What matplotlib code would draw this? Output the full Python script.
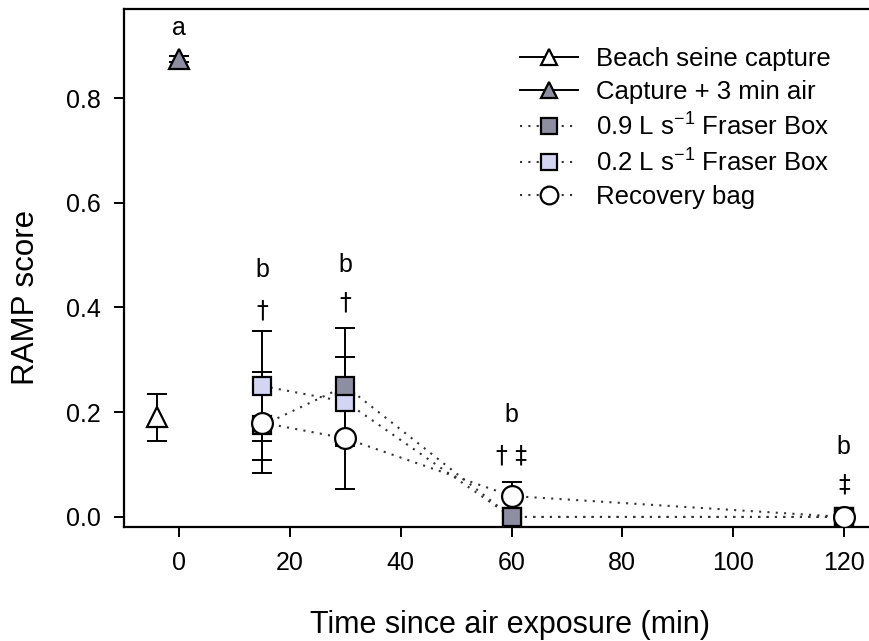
import matplotlib
matplotlib.use("Agg")
from matplotlib import pyplot as plt

plt.rcParams['font.family'] = ['Liberation Sans', 'DejaVu Sans']
plt.rcParams['mathtext.default'] = 'regular'

#------------------------------------------------------------
# Data
seine_t = [-4]
seine_y = [0.19]
seine_err = [0.045]

air_t = [0]
air_y = [0.875]
air_err = [0.006]

times = [15, 30, 60, 120]
box09_y = [0.175, 0.25, 0.0, 0.0]
box09_err = [0.066, 0.11, 0.0, 0.0]
box02_y = [0.25, 0.22, 0.0, 0.0]
box02_err = [0.105, 0.085, 0.0, 0.0]
bag_y = [0.18, 0.15, 0.04, 0.0]
bag_err = [0.097, 0.097, 0.026, 0.0]

letters = ['a', 'b', 'b', 'b', 'b']
letter_t = [0, 15, 30, 60, 120]
letter_y = [0.934, 0.472, 0.481, 0.195, 0.134]
marks = ['\u2020', '\u2020', '\u2020 \u2021', '\u2021']
mark_t = [15, 30, 60, 120]
mark_y = [0.395, 0.41, 0.118, 0.062]

dark = '#8e8ea2'
light = '#d3d5f3'
dots = (0, (1, 3))

#------------------------------------------------------------
fig = plt.figure(figsize=(8.69, 6.41), dpi=100)
ax = fig.add_axes([0.1427, 0.178, 0.857, 0.808])

eb = dict(fmt='none', ecolor='black', elinewidth=1.4, capsize=7.5, capthick=1.4, zorder=2)
ax.errorbar(seine_t, seine_y, yerr=seine_err, **eb)
ax.errorbar(air_t, air_y, yerr=air_err, **eb)
ax.errorbar(times, box09_y, yerr=box09_err, **eb)
ax.errorbar(times, box02_y, yerr=box02_err, **eb)
ax.errorbar(times, bag_y, yerr=bag_err, **eb)

mk = dict(markeredgecolor='black', markeredgewidth=1.6, zorder=3)
h1, = ax.plot(seine_t, seine_y, '-', color='black', lw=1.4, marker='^', ms=14,
              markerfacecolor='white', label='Beach seine capture', **mk)
h2, = ax.plot(air_t, air_y, '-', color='black', lw=1.4, marker='^', ms=14,
              markerfacecolor=dark, label='Capture + 3 min air', **mk)
h4, = ax.plot(times, box02_y, linestyle=dots, color='#333333', lw=1.5, marker='s', ms=13,
              markerfacecolor=light, label='0.2 L s$^{-1}$ Fraser Box', **mk)
h3, = ax.plot(times, box09_y, linestyle=dots, color='#333333', lw=1.5, marker='s', ms=13,
              markerfacecolor=dark, label='0.9 L s$^{-1}$ Fraser Box', **mk)
h5, = ax.plot(times, bag_y, linestyle=dots, color='#333333', lw=1.5, marker='o', ms=15,
              markerfacecolor='white', label='Recovery bag', **mk)

for t, y, s in zip(letter_t, letter_y, letters):
    ax.text(t, y, s, ha='center', va='center', fontsize=18)
for t, y, s in zip(mark_t, mark_y, marks):
    ax.text(t, y, s, ha='center', va='center', fontsize=17, family='DejaVu Sans')

ax.set_xlim(-10, 124.5)
ax.set_ylim(-0.019, 0.97)
ax.set_xticks([0, 20, 40, 60, 80, 100, 120])
ax.set_yticks([0.0, 0.2, 0.4, 0.6, 0.8])
ax.set_yticklabels(['0.0', '0.2', '0.4', '0.6', '0.8'])
ax.tick_params(direction='out', length=7.5, width=1.4, labelsize=18)
ax.tick_params(axis='x', pad=10)
ax.tick_params(axis='y', pad=9)
for sp in ax.spines.values():
    sp.set_linewidth(1.6)
ax.spines['right'].set_visible(False)

ax.set_xlabel('Time since air exposure (min)', fontsize=22)
ax.set_ylabel('RAMP score', fontsize=22.5)
ax.xaxis.set_label_coords(0.518, -0.16)
ax.yaxis.set_label_coords(-0.111, 0.444)

ax.legend(handles=[h1, h2, h3, h4, h5], loc='upper left',
          bbox_to_anchor=(520 / 869, 1 - 47 / 641), bbox_transform=fig.transFigure,
          frameon=False, fontsize=18.5, handlelength=2.26, handletextpad=0.7,
          labelspacing=0.35, borderpad=0, borderaxespad=0, markerscale=0.85)

plt.savefig('out.png', dpi=100)
